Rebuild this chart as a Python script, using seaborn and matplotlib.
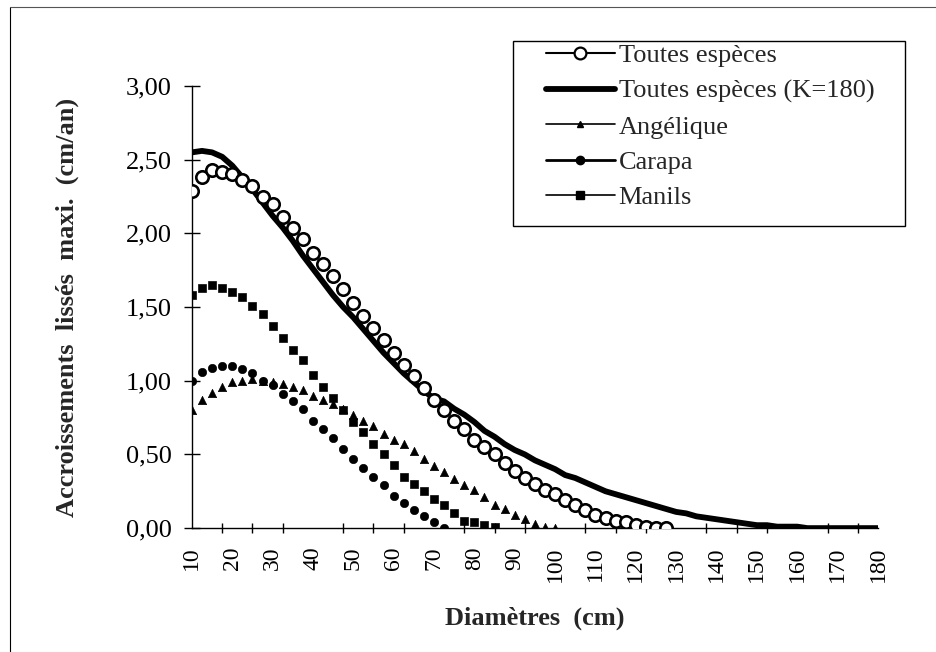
import numpy as np
import pandas as pd
import matplotlib
matplotlib.use("Agg")
import matplotlib.pyplot as plt
from matplotlib.lines import Line2D
from matplotlib.patches import Rectangle
from matplotlib.ticker import FuncFormatter, FixedLocator
import seaborn as sns

# ── Data ─────────────────────────────────────────────────────────
diametres = [10, 12.5, 15, 17.5, 20, 22.5, 25, 27.5, 30, 32.5, 35, 37.5,
             40, 42.5, 45, 47.5, 50, 52.5, 55, 57.5, 60, 62.5, 65, 67.5,
             70, 72.5, 75, 77.5, 80, 82.5, 85, 87.5, 90, 92.5, 95, 97.5,
             100, 102.5, 105, 107.5, 110, 112.5, 115, 117.5, 120, 122.5,
             125, 127.5, 130, 132.5, 135, 137.5, 140, 142.5, 145, 147.5,
             150, 152.5, 155, 157.5, 160, 162.5, 165, 167.5, 170, 172.5,
             175, 177.5, 180]

toutes = [2.29, 2.38, 2.43, 2.42, 2.40, 2.36, 2.32, 2.25, 2.20, 2.11, 2.04, 1.96,
          1.87, 1.79, 1.71, 1.62, 1.53, 1.44, 1.36, 1.28, 1.19, 1.11, 1.03, 0.95,
          0.87, 0.80, 0.73, 0.67, 0.60, 0.55, 0.50, 0.44, 0.39, 0.34, 0.30, 0.26,
          0.23, 0.19, 0.16, 0.12, 0.09, 0.07, 0.05, 0.04, 0.02, 0.01, 0.00, 0.00]

toutes_k180 = [2.55, 2.56, 2.55, 2.52, 2.46, 2.38, 2.30, 2.21, 2.12, 2.04, 1.95, 1.85,
               1.76, 1.67, 1.58, 1.50, 1.43, 1.35, 1.27, 1.19, 1.12, 1.05, 0.99, 0.93,
               0.88, 0.86, 0.81, 0.77, 0.72, 0.66, 0.62, 0.57, 0.53, 0.50, 0.46, 0.43,
               0.40, 0.36, 0.34, 0.31, 0.28, 0.25, 0.23, 0.21, 0.19, 0.17, 0.15, 0.13,
               0.11, 0.10, 0.08, 0.07, 0.06, 0.05, 0.04, 0.03, 0.02, 0.02, 0.01, 0.01,
               0.01, 0.00, 0.00, 0.00, 0.00, 0.00, 0.00, 0.00, 0.00]

angelique = [0.80, 0.87, 0.92, 0.96, 0.99, 1.00, 1.01, 1.00, 0.99, 0.98, 0.96, 0.94,
             0.90, 0.87, 0.84, 0.81, 0.77, 0.73, 0.69, 0.64, 0.60, 0.57, 0.52, 0.47,
             0.42, 0.38, 0.33, 0.29, 0.26, 0.21, 0.16, 0.13, 0.09, 0.06, 0.03, 0.01,
             0.00]

carapa = [1.00, 1.06, 1.09, 1.10, 1.10, 1.08, 1.05, 1.00, 0.97, 0.91, 0.86, 0.81,
          0.73, 0.67, 0.61, 0.54, 0.47, 0.41, 0.35, 0.29, 0.22, 0.17, 0.12, 0.08,
          0.04, 0.00]

manils = [1.58, 1.63, 1.65, 1.63, 1.60, 1.57, 1.51, 1.45, 1.37, 1.29, 1.21, 1.14,
          1.04, 0.96, 0.88, 0.80, 0.72, 0.65, 0.57, 0.50, 0.43, 0.35, 0.30, 0.25,
          0.20, 0.16, 0.10, 0.05, 0.04, 0.02, 0.01]

x_labels = [10, 20, 30, 40, 50, 60, 70, 80, 90, 100, 110, 120, 130, 140, 150,
            160, 170, 180]
y_ticks = [0.0, 0.5, 1.0, 1.5, 2.0, 2.5, 3.0]


def serie(vals):
    return pd.DataFrame({"d": diametres[:len(vals)], "v": vals})


# ── Style ────────────────────────────────────────────────────────
sns.set_theme(style="white")
plt.rcParams["font.family"] = ["Liberation Serif", "DejaVu Serif"]
plt.rcParams["font.size"] = 18

fig = plt.figure(figsize=(9.36, 6.52), dpi=100)
ax = fig.add_axes([0.205, 0.19, 0.733, 0.678])

# ── Series ───────────────────────────────────────────────────────
sns.lineplot(data=serie(toutes_k180), x="d", y="v", ax=ax,
             color="black", lw=4.2, zorder=2)
sns.scatterplot(data=serie(carapa), x="d", y="v", ax=ax, marker="o",
                color="black", s=36, edgecolor="black", zorder=3)
sns.scatterplot(data=serie(angelique), x="d", y="v", ax=ax, marker="^",
                color="black", s=36, edgecolor="black", zorder=3)
sns.scatterplot(data=serie(manils), x="d", y="v", ax=ax, marker="s",
                color="black", s=34, edgecolor="black", zorder=3)
sns.scatterplot(data=serie(toutes), x="d", y="v", ax=ax, marker="o",
                color="white", s=80, edgecolor="black", linewidth=1.9, zorder=4)

# ── Axes ─────────────────────────────────────────────────────────
ax.set_xlim(10, 180)
ax.set_ylim(0, 3)
sns.despine(ax=ax)
for s in ["left", "bottom"]:
    ax.spines[s].set_color("black")
    ax.spines[s].set_linewidth(1.0)

ax.xaxis.set_major_locator(FixedLocator(x_labels))
ax.xaxis.set_minor_locator(FixedLocator(diametres[::3]))
ax.tick_params(axis="x", which="major", length=0, pad=13, labelsize=17,
               labelrotation=90, colors="black")
ax.tick_params(axis="x", which="minor", bottom=True, direction="inout",
               length=7, width=1, color="black")

ax.yaxis.set_major_locator(FixedLocator(y_ticks))
ax.yaxis.set_major_formatter(FuncFormatter(lambda v, _: f"{v:.2f}".replace(".", ",")))
ax.tick_params(axis="y", which="major", left=True, direction="inout",
               length=11, width=1, pad=9, labelsize=19, colors="black")

ax.set_xlabel("Diamètres  (cm)", fontsize=19, fontweight="bold")
ax.set_ylabel("Accroissements  lissés  maxi.  (cm/an)", fontsize=19,
              fontweight="bold")
ax.xaxis.set_label_coords(0.5, -0.178)
ax.yaxis.set_label_coords(-0.165, 0.5)

# ── Legend ───────────────────────────────────────────────────────
handles = [
    Line2D([], [], color="black", lw=1.5, marker="o", mfc="white",
           mec="black", ms=8.5, mew=1.6),
    Line2D([], [], color="black", lw=4.2),
    Line2D([], [], color="black", lw=1.2, marker="^", ms=5),
    Line2D([], [], color="black", lw=2.0, marker="o", ms=6),
    Line2D([], [], color="black", lw=1.2, marker="s", ms=6),
]
labels = ["Toutes espèces", "Toutes espèces (K=180)", "Angélique",
          "Carapa", "Manils"]
fig.legend(handles, labels, loc="upper left",
           bbox_to_anchor=(546 / 936, 1 - 44 / 652), frameon=False,
           fontsize=19, handlelength=2.6, handletextpad=0.15,
           borderpad=0, borderaxespad=0, labelspacing=0.45)
fig.add_artist(Rectangle((513 / 936, 1 - 226 / 652), 392 / 936, 185 / 652,
                         transform=fig.transFigure, fill=False,
                         edgecolor="black", lw=1.0))

# outer chart frame (only left and top edges show in the scan)
fig.add_artist(Line2D([0.011, 0.011], [0.0, 0.99], transform=fig.transFigure,
                      color="black", lw=0.8))
fig.add_artist(Line2D([0.011, 1.0], [0.99, 0.99], transform=fig.transFigure,
                      color="#555555", lw=0.8))

fig.savefig("out.png", dpi=100)
